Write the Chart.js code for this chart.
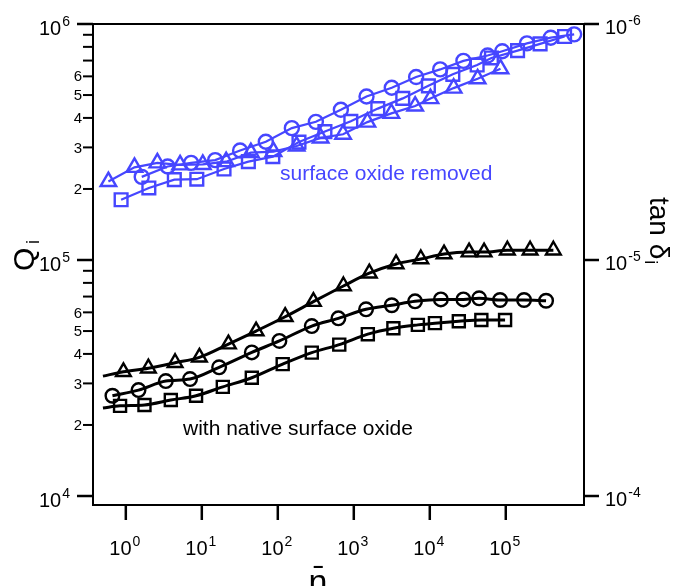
<!DOCTYPE html>
<html>
<head>
<meta charset="utf-8">
<script src="https://cdn.jsdelivr.net/npm/chart.js@4.4.0/dist/chart.umd.min.js"></script>
<style>
  html, body { margin: 0; padding: 0; background: #fff; }
</style>
</head>
<body>
<canvas id="myChart" width="677" height="586"></canvas>
<script>
// mean photon number n-bar (x) and internal quality factor Q_i (y)
// surface oxide removed (blue)
var blueTriN = [0.59, 1.30, 2.60, 5.18, 10.3, 20.9, 44.2, 87.7, 177, 366, 723, 1510, 3120, 6420, 10200, 20600, 42600, 85200];
var blueTriQ = [215000, 247000, 258000, 253000, 254000, 261000, 285000, 288000, 304000, 329000, 341000, 384000, 418000, 449000, 483000, 535000, 586000, 646000];
var blueCircN = [1.62, 3.55, 7.23, 15.0, 31.9, 69.5, 153, 317, 676, 1470, 3160, 6610, 13700, 27700, 57700, 89900, 190000, 391000, 794000];
var blueCircQ = [225000, 249000, 258000, 265000, 291000, 317000, 362000, 385000, 433000, 493000, 537000, 596000, 642000, 698000, 735000, 767000, 828000, 875000, 904000];
var blueSqN = [0.867, 2.01, 4.35, 8.6, 19.6, 41.0, 86, 190, 417, 914, 2070, 4410, 9590, 20100, 42000, 64700, 143000, 283000, 594000];
var blueSqQ = [180000, 202000, 219000, 220000, 243000, 261000, 274000, 316000, 350000, 387000, 438000, 484000, 547000, 612000, 670000, 718000, 771000, 824000, 885000];

// with native surface oxide (black)
var blackTriN = [0.93, 1.98, 4.45, 9.3, 22.4, 51.8, 125, 294, 730, 1600, 3600, 7620, 15400, 32900, 51800, 105000, 209000, 423000];
var blackTriQ = [33600, 34800, 36700, 38700, 44000, 50000, 57500, 66600, 77600, 87900, 96200, 101000, 106000, 108000, 108000, 110000, 110000, 110000];
var blackCircN = [0.667, 1.47, 3.36, 7.0, 16.9, 45.5, 105, 280, 627, 1450, 3160, 6400, 14000, 27700, 44600, 84100, 174000, 339000];
var blackCircQ = [26600, 28100, 30700, 31300, 35100, 40600, 45400, 52500, 56600, 61800, 64300, 66800, 68100, 68100, 68800, 67700, 67700, 67200];
var blackSqN = [0.84, 1.76, 3.91, 8.4, 18.9, 45.5, 116, 280, 644, 1530, 3320, 6970, 11700, 24100, 47700, 97900];
var blackSqQ = [24100, 24300, 25500, 26600, 29000, 31700, 36200, 40500, 43800, 48500, 51400, 53100, 54000, 55000, 55700, 55700];

// left end of the black fit curves
var triFitStartN = [0.5], triFitStartQ = [32200];
var sqFitStartN = [0.5], sqFitStartQ = [23600];

// ticks
var xTicks = [1, 10, 100, 1000, 10000, 100000];
var xTickExp = ['0', '1', '2', '3', '4', '5'];
var qMajor = [10000, 100000, 1000000];
var qMajorExp = ['4', '5', '6'];
var tanMajor = [1e-4, 1e-5, 1e-6];
var tanMajorExp = ['-4', '-5', '-6'];
var minorMult = [2, 3, 4, 5, 6, 7, 8, 9];
var minorLabelled = [2, 3, 4, 5, 6];

var blue = '#4646ff';
var FONT = '"Liberation Sans", Arial, "DejaVu Sans", sans-serif';

function pts(xs, ys) {
    return xs.map(function (x, i) { return {x: x, y: ys[i]}; });
}

function markerSet(xs, ys, color, style, r, line) {
    return {
        data: pts(xs, ys),
        showLine: line,
        borderColor: color,
        backgroundColor: 'rgba(0,0,0,0)',
        borderWidth: 2.2,
        pointStyle: style,
        pointRadius: r,
        pointBorderWidth: 2.4,
        pointBorderColor: color,
        pointBackgroundColor: 'rgba(0,0,0,0)',
        tension: 0
    };
}

function fitSet(xs, ys) {
    return {
        data: pts(xs, ys),
        showLine: true,
        borderColor: '#000',
        borderWidth: 3,
        pointRadius: 0,
        cubicInterpolationMode: 'monotone'
    };
}

// 10 with a superscript exponent, y = middle of the "10"
function powLabel(ctx, x, y, exp, align) {
    var big = '20px ' + FONT, small = '14px ' + FONT;
    ctx.font = big;
    var wb = ctx.measureText('10').width;
    ctx.font = small;
    var we = ctx.measureText(exp).width;
    var x0 = x;
    if (align === 'right') x0 = x - wb - we - 1;
    if (align === 'center') x0 = x - (wb + we + 1) / 2;
    ctx.textAlign = 'left';
    ctx.textBaseline = 'alphabetic';
    ctx.font = big;
    ctx.fillText('10', x0, y + 7);
    ctx.font = small;
    ctx.fillText(exp, x0 + wb + 1, y - 2);
}

var axesPlugin = {
    id: 'axesPlugin',
    afterDraw: function (chart) {
        var ctx = chart.ctx, a = chart.chartArea;
        var xs = chart.scales.x, ys = chart.scales.y, ts = chart.scales.y2;
        ctx.save();
        ctx.strokeStyle = '#000';
        ctx.fillStyle = '#000';
        ctx.lineWidth = 2;
        ctx.strokeRect(a.left, a.top, a.right - a.left, a.bottom - a.top);

        // x ticks
        xTicks.forEach(function (v, i) {
            var px = xs.getPixelForValue(v);
            ctx.lineWidth = 2.5;
            ctx.beginPath();
            ctx.moveTo(px, a.bottom);
            ctx.lineTo(px, a.bottom + 15);
            ctx.stroke();
            powLabel(ctx, px - 1, 548, xTickExp[i], 'center');
        });

        // left axis, Q_i
        qMajor.forEach(function (v, i) {
            var py = ys.getPixelForValue(v);
            ctx.lineWidth = 2.5;
            ctx.beginPath();
            ctx.moveTo(a.left - 16, py);
            ctx.lineTo(a.left, py);
            ctx.stroke();
            powLabel(ctx, a.left - 23, py + 4, qMajorExp[i], 'right');
            if (v < 1000000) {
                minorMult.forEach(function (m) {
                    var pm = ys.getPixelForValue(v * m);
                    ctx.lineWidth = 2;
                    ctx.beginPath();
                    ctx.moveTo(a.left - 10, pm);
                    ctx.lineTo(a.left, pm);
                    ctx.stroke();
                    if (minorLabelled.indexOf(m) >= 0) {
                        ctx.font = '15px ' + FONT;
                        ctx.textAlign = 'right';
                        ctx.textBaseline = 'middle';
                        ctx.fillText(String(m), a.left - 11, pm + 1);
                    }
                });
            }
        });

        // right axis, tan delta_i = 1/Q_i
        tanMajor.forEach(function (v, i) {
            var py = ts.getPixelForValue(v);
            ctx.lineWidth = 2.5;
            ctx.beginPath();
            ctx.moveTo(a.right, py);
            ctx.lineTo(a.right + 15, py);
            ctx.stroke();
            powLabel(ctx, a.right + 21, py + 3, tanMajorExp[i], 'left');
            if (v > 1e-4) {
                minorMult.forEach(function (m) {
                    var pm = ts.getPixelForValue(v * m);
                    ctx.lineWidth = 2;
                    ctx.beginPath();
                    ctx.moveTo(a.right, pm);
                    ctx.lineTo(a.right + 9, pm);
                    ctx.stroke();
                    if (minorLabelled.indexOf(m) >= 0) {
                        ctx.font = '15px ' + FONT;
                        ctx.textAlign = 'left';
                        ctx.textBaseline = 'middle';
                        ctx.fillText(String(m), a.right + 10, pm + 1);
                    }
                });
            }
        });

        // axis titles
        ctx.textAlign = 'left';
        ctx.textBaseline = 'alphabetic';
        ctx.save();
        ctx.rotate(-Math.PI / 2);
        ctx.font = '30px ' + FONT;
        ctx.fillText('Q', -271, 34);
        ctx.font = '18px ' + FONT;
        ctx.fillText('i', -244, 39);
        ctx.restore();

        ctx.save();
        ctx.rotate(Math.PI / 2);
        ctx.font = '28px ' + FONT;
        ctx.fillText('tan δ', 197, -650);
        var wt = ctx.measureText('tan δ').width;
        ctx.font = '18px ' + FONT;
        ctx.fillText('i', 197 + wt + 1, -645);
        ctx.restore();

        ctx.font = '34px ' + FONT;
        ctx.textAlign = 'center';
        ctx.fillText('n\u0304', 318, 593);

        // annotations
        ctx.textAlign = 'left';
        ctx.font = '21px ' + FONT;
        ctx.fillStyle = blue;
        ctx.fillText('surface oxide removed', 280, 180);
        ctx.fillStyle = '#000';
        ctx.fillText('with native surface oxide', 183, 435);
        ctx.restore();
    }
};

var ctx = document.getElementById('myChart');
var myChart = new Chart(ctx, {
    type: 'scatter',
    data: {
        datasets: [
            markerSet(blackTriN, blackTriQ, '#000', 'triangle', 8.5, false),
            markerSet(blackCircN, blackCircQ, '#000', 'circle', 6.8, false),
            markerSet(blackSqN, blackSqQ, '#000', 'rect', 8.5, false),
            fitSet(triFitStartN.concat(blackTriN), triFitStartQ.concat(blackTriQ)),
            fitSet(blackCircN, blackCircQ),
            fitSet(sqFitStartN.concat(blackSqN), sqFitStartQ.concat(blackSqQ)),
            markerSet(blueTriN, blueTriQ, blue, 'triangle', 9, true),
            markerSet(blueCircN, blueCircQ, blue, 'circle', 7, true),
            markerSet(blueSqN, blueSqQ, blue, 'rect', 9, true)
        ]
    },
    options: {
        responsive: false,
        animation: false,
        events: [],
        layout: {
            padding: {left: 93, right: 93, top: 24, bottom: 81}
        },
        plugins: {
            legend: {display: false},
            tooltip: {enabled: false}
        },
        scales: {
            x: {type: 'logarithmic', min: 0.37, max: 1.07e6, display: false},
            y: {type: 'logarithmic', min: 9160, max: 1e6, display: false},
            y2: {type: 'logarithmic', min: 1e-6, max: 1 / 9160, reverse: true, display: false, position: 'right'}
        }
    },
    plugins: [axesPlugin]
});
</script>
</body>
</html>
